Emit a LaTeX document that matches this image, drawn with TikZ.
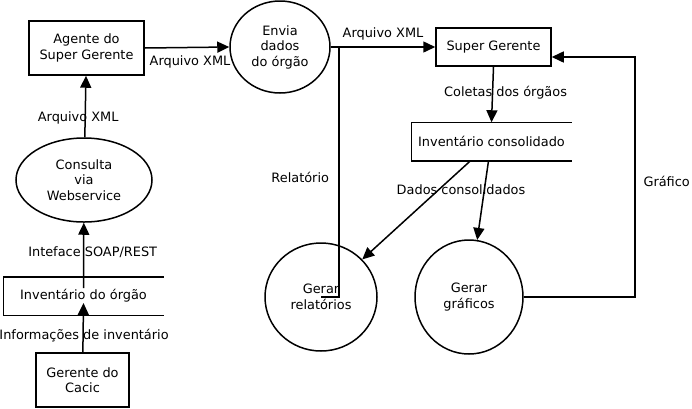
\documentclass[tikz,border=0pt]{standalone}
\usepackage{fontspec}
\setmainfont{DejaVu Sans}
\usetikzlibrary{shapes,arrows.meta,positioning,calc}

\begin{document}
\begin{tikzpicture}[
    x=1pt, y=-1pt,
    font=\fontsize{12.9}{15.5}\selectfont,
    line width=1.5pt,
    entity/.style={draw, rectangle, align=center, minimum height=54pt},
    process/.style={draw, ellipse, align=center, inner sep=0pt},
    store/.style={rectangle, align=center, minimum width=159pt, minimum height=37pt},
    flow/.style={-{Triangle[length=12pt,width=11pt]}},
    lbl/.style={inner sep=1pt}
]
\useasboundingbox (0,0) rectangle (692,408);

% entidades externas
\node[entity, minimum width=115pt] (agente) at (86.5,48) {Agente do\\Super Gerente};
\node[entity, minimum width=115pt, minimum height=38pt] (super) at (493.5,47) {Super Gerente};
\node[entity, minimum width=93pt] (gerente) at (82.5,380) {Gerente do\\Cacic};

% processos
\node[process, minimum width=100pt, minimum height=92pt] (envia) at (280,47) {Envia\\dados\\do órgão};
\node[process, minimum width=136pt, minimum height=84pt] (consulta) at (84,180) {Consulta\\via\\Webservice};
\node[process, minimum width=112pt, minimum height=108pt] (relat) at (321,297) {Gerar\\relatórios};
\node[process, minimum width=108pt, minimum height=114pt] (graficos) at (469,297) {Gerar\\gráficos};

% depositos de dados
\node[store] (invorgao) at (83.5,296) {Inventário do órgão};
\node[store] (invcons) at (491.5,141.5) {Inventário consolidado};
\draw (invorgao.north east) -- (invorgao.north west) -- (invorgao.south west) -- (invorgao.south east);
\draw (invcons.north east) -- (invcons.north west) -- (invcons.south west) -- (invcons.south east);

% fluxos
\draw[flow] (agente.east) -- node[lbl, below=6pt, xshift=3pt]{Arquivo XML} (envia.west);
\draw[flow] (envia.east) -- node[lbl, above=5pt]{Arquivo XML} (super.west);
\draw[flow] (consulta) -- node[lbl, pos=0.32, xshift=-7pt]{Arquivo XML} (agente);
\draw[flow] ([yshift=8pt]invorgao.center) -- node[lbl, pos=0.55, xshift=9pt]{Inteface SOAP/REST} (consulta);
\draw[flow] (gerente) -- node[lbl, pos=0.33, xshift=1pt]{Informações de inventário} ([yshift=-7pt]invorgao.center);
\draw[flow] (super.south) -- node[lbl, pos=0.46, xshift=13pt]{Coletas dos órgãos} (invcons.north);
\draw[flow] ([xshift=-21pt]invcons.south) -- (relat);
\draw[flow] ([xshift=-3pt]invcons.south) -- (graficos);
\node[lbl] (dados) at (461,190) {Dados consolidados};
\draw[flow] (graficos.east) -- ++(111,0) |- node[lbl, pos=0.24, right=7pt]{Gráfico} ([yshift=-10pt]super.east);

\coordinate (split) at ($(envia.east)+(8,0)$);
\draw (split) |- node[lbl, pos=0.26, left=8pt]{Relatório} (relat.center);

\end{tikzpicture}
\end{document}
